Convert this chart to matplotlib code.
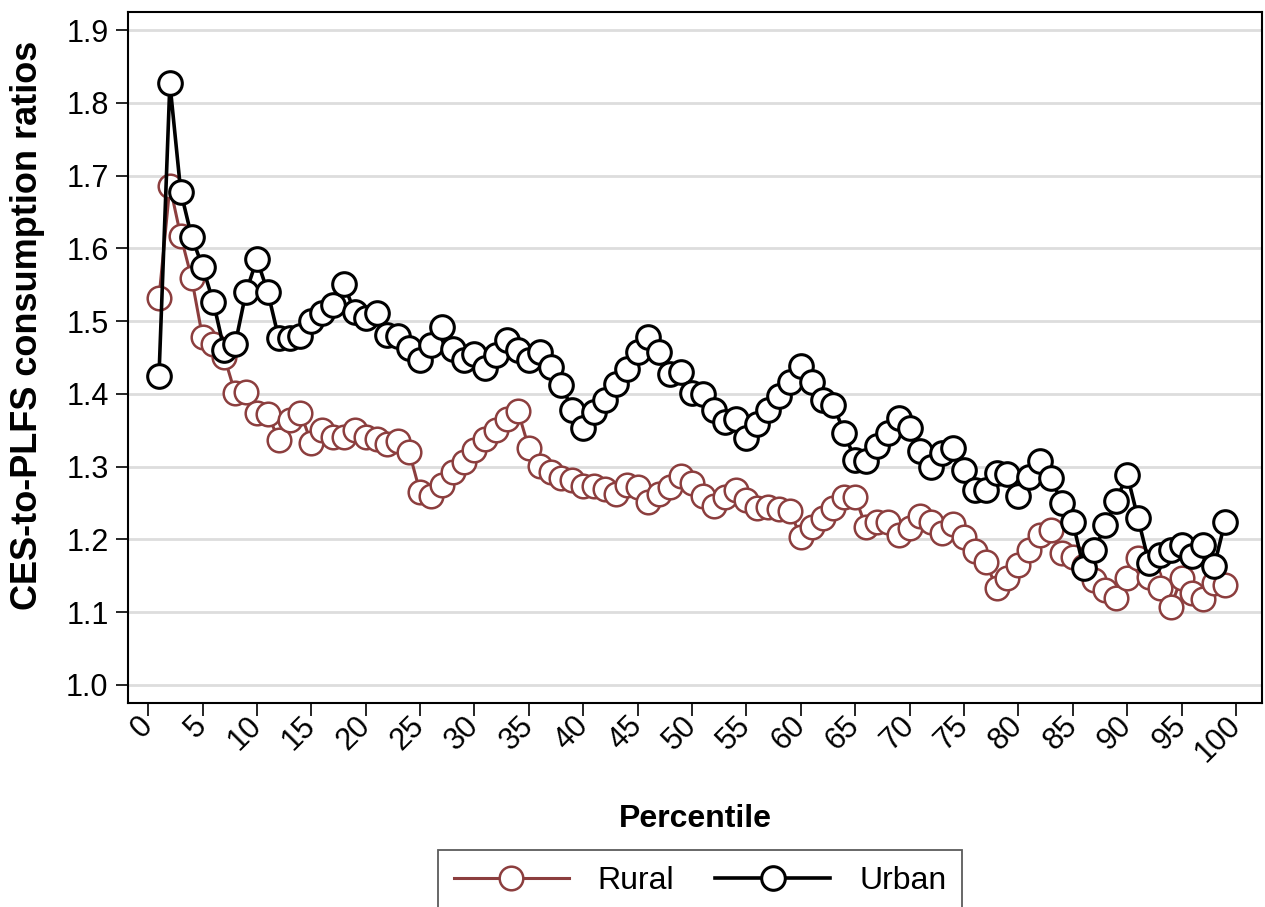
import matplotlib
matplotlib.use("Agg")
import matplotlib.pyplot as plt
import numpy as np

plt.rcParams['font.family'] = ['Liberation Sans', 'DejaVu Sans']

percentile = list(range(1, 100))

rural = [1.532, 1.686, 1.617, 1.559, 1.478, 1.469, 1.451, 1.401, 1.403, 1.374,
         1.372, 1.337, 1.364, 1.374, 1.333, 1.350, 1.341, 1.341, 1.350, 1.341,
         1.338, 1.331, 1.335, 1.320, 1.265, 1.260, 1.275, 1.293, 1.306, 1.323,
         1.338, 1.350, 1.365, 1.376, 1.326, 1.301, 1.293, 1.284, 1.282, 1.273,
         1.273, 1.269, 1.262, 1.275, 1.272, 1.251, 1.262, 1.272, 1.287, 1.278,
         1.260, 1.246, 1.258, 1.268, 1.254, 1.243, 1.245, 1.242, 1.239, 1.203,
         1.217, 1.229, 1.243, 1.258, 1.258, 1.217, 1.224, 1.224, 1.206, 1.216,
         1.232, 1.224, 1.209, 1.221, 1.203, 1.184, 1.169, 1.133, 1.147, 1.165,
         1.185, 1.206, 1.213, 1.181, 1.176, 1.163, 1.144, 1.131, 1.120, 1.147,
         1.174, 1.148, 1.133, 1.107, 1.147, 1.126, 1.118, 1.140, 1.137]

urban = [1.425, 1.827, 1.678, 1.616, 1.575, 1.526, 1.460, 1.468, 1.540, 1.585,
         1.540, 1.477, 1.477, 1.480, 1.500, 1.511, 1.522, 1.551, 1.512, 1.504,
         1.511, 1.481, 1.480, 1.463, 1.447, 1.467, 1.492, 1.462, 1.447, 1.455,
         1.436, 1.453, 1.474, 1.460, 1.447, 1.458, 1.437, 1.412, 1.378, 1.353,
         1.375, 1.392, 1.414, 1.434, 1.458, 1.478, 1.458, 1.427, 1.430, 1.401,
         1.400, 1.378, 1.361, 1.365, 1.339, 1.359, 1.378, 1.397, 1.416, 1.438,
         1.416, 1.392, 1.385, 1.346, 1.309, 1.308, 1.328, 1.346, 1.367, 1.353,
         1.322, 1.300, 1.319, 1.326, 1.295, 1.268, 1.268, 1.291, 1.290, 1.260,
         1.286, 1.308, 1.284, 1.250, 1.224, 1.161, 1.185, 1.220, 1.253, 1.289,
         1.229, 1.168, 1.179, 1.186, 1.192, 1.177, 1.192, 1.163, 1.224]

rural_color = '#8c3e3e'

fig = plt.figure(figsize=(12.65, 9.07), dpi=100)
ax = fig.add_axes([128 / 1265, 1 - 703 / 907, (1262 - 128) / 1265, (703 - 12) / 907])

ax.plot(percentile, rural, color=rural_color, lw=2.2, marker='o', ms=17,
        mfc='white', mec=rural_color, mew=1.8, label='Rural', zorder=3)
ax.plot(percentile, urban, color='black', lw=2.6, marker='o', ms=17,
        mfc='white', mec='black', mew=2.2, label='Urban', zorder=4)

ax.set_xlim(-1.85, 102.4)
ax.set_ylim(0.975, 1.925)
ax.set_xticks(np.arange(0, 101, 5))
ax.set_yticks(np.arange(1.0, 1.91, 0.1))
ax.set_yticklabels([f'{v:.1f}' for v in np.arange(1.0, 1.91, 0.1)])
ax.tick_params(axis='both', labelsize=22, length=9, width=1.2, direction='out')
ax.tick_params(axis='y', pad=5)
ax.tick_params(axis='x', pad=4)
for lab in ax.get_xticklabels():
    lab.set_rotation(45)
    lab.set_ha('right')
    lab.set_va('center')
    lab.set_rotation_mode('anchor')
ax.grid(axis='y', color='#dddddd', lw=2)
ax.set_axisbelow(True)
for s in ax.spines.values():
    s.set_linewidth(1.5)

ax.set_xlabel('Percentile', fontsize=23, fontweight='bold', labelpad=26)
ax.set_ylabel('CES-to-PLFS consumption ratios', fontsize=26, fontweight='bold',
              va='center')
ax.yaxis.set_label_coords(-0.089, 0.547)

leg = fig.legend(loc='upper center', bbox_to_anchor=(700 / 1265, 1 - 850 / 907), ncol=2,
                 fontsize=23, frameon=True, fancybox=False, edgecolor='#333333',
                 handlelength=3.6, columnspacing=1.3, borderpad=0.5, handletextpad=0.9,
                 borderaxespad=0)
leg.get_frame().set_linewidth(1.3)

fig.savefig('out.png', dpi=100)
